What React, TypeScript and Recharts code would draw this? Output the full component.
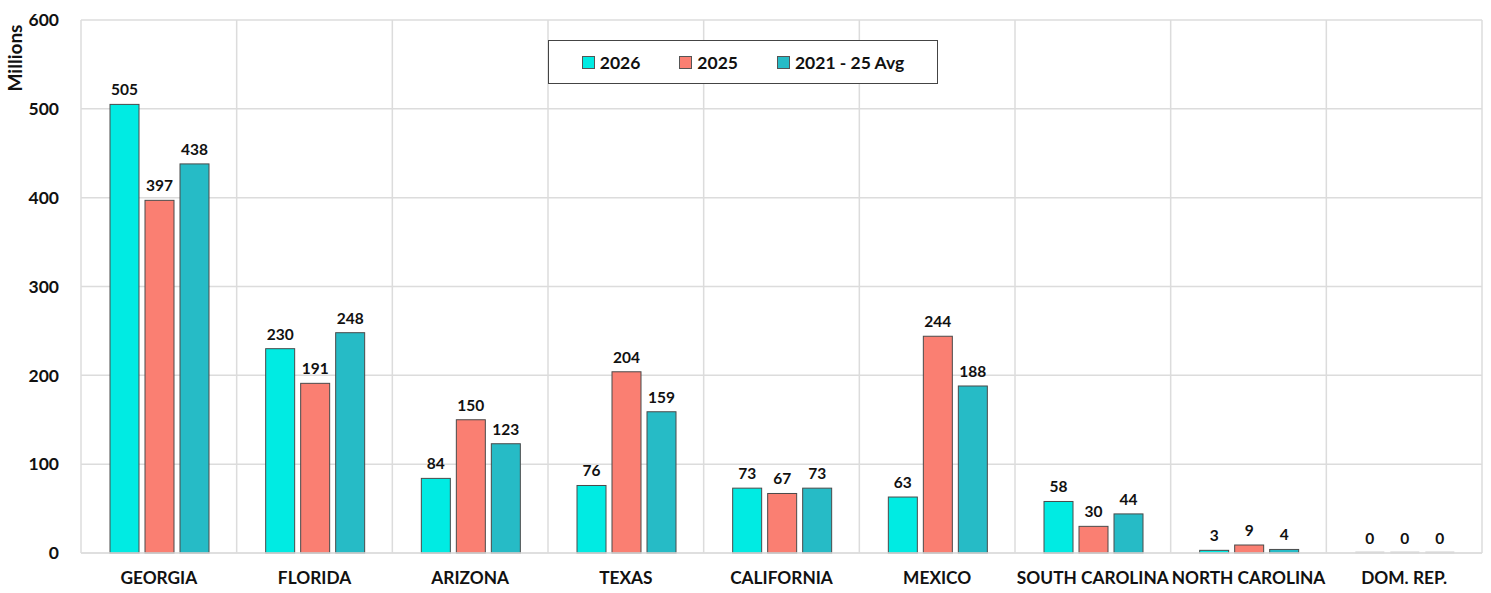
import React from "react";
import { BarChart, Bar, XAxis, YAxis, CartesianGrid, LabelList, Legend } from "recharts";

const categories = ["GEORGIA", "FLORIDA", "ARIZONA", "TEXAS", "CALIFORNIA", "MEXICO", "SOUTH CAROLINA", "NORTH CAROLINA", "DOM. REP."];
const values2026 = [505, 230, 84, 76, 73, 63, 58, 3, 0];
const values2025 = [397, 191, 150, 204, 67, 244, 30, 9, 0];
const valuesAvg = [438, 248, 123, 159, 73, 188, 44, 4, 0];
const yTicks = [0, 100, 200, 300, 400, 500, 600];

const seriesNames = ["2026", "2025", "2021 - 25 Avg"];
const colors = ["#00EBE3", "#FA7F72", "#26BBC6"];

const data = categories.map((c, i) => ({
  name: c,
  v2026: values2026[i],
  v2025: values2025[i],
  vAvg: valuesAvg[i],
}));

const FONT = "Lato, 'Open Sans', sans-serif";

const BarShape = (props: any) => {
  const { x, y, width, height, fill } = props;
  if (!height || height < 1) {
    return <rect x={x} y={y - 1.5} width={width} height={2} fill="#d0d0d0" />;
  }
  return <rect x={x} y={y} width={width} height={height} fill={fill} stroke="#4a4a4a" strokeWidth={1} />;
};

const LegendBox = () => (
  <div
    style={{
      position: "absolute",
      left: 548,
      top: 40,
      width: 390,
      height: 44,
      border: "1.5px solid #444",
      background: "#fff",
      display: "flex",
      alignItems: "center",
      justifyContent: "center",
      gap: 39,
      fontFamily: FONT,
      fontWeight: 700,
      fontSize: 17.5,
      color: "#111",
      boxSizing: "border-box",
    }}
  >
    {seriesNames.map((n, i) => (
      <div key={n} style={{ display: "flex", alignItems: "center", gap: 5 }}>
        <div style={{ width: 11, height: 11, background: colors[i], border: "1px solid #555" }} />
        <span>{n}</span>
      </div>
    ))}
  </div>
);

const MillionsLabel = () => (
  <text
    x={0}
    y={0}
    transform="translate(22,58) rotate(-90)"
    textAnchor="middle"
    fontFamily={FONT}
    fontWeight={700}
    fontSize={19}
    fill="#111"
  >
    Millions
  </text>
);

export default function App() {
  const vGen = ({ offset }: any) => {
    const arr: number[] = [];
    for (let i = 0; i <= categories.length; i++) arr.push(offset.left + (offset.width * i) / categories.length);
    return arr;
  };
  return (
    <div style={{ position: "absolute", left: 0, top: 0, width: 1491, height: 593, background: "#fff" }}>
      <BarChart
        width={1491}
        height={593}
        data={data}
        margin={{ top: 20, right: 9, bottom: 0, left: 0 }}
        barCategoryGap={29}
        barGap={6}
      >
        <CartesianGrid stroke="#dcdcdc" strokeWidth={1.5} verticalCoordinatesGenerator={vGen} />
        <XAxis
          dataKey="name"
          height={40}
          tickLine={false}
          axisLine={{ stroke: "#dcdcdc", strokeWidth: 1.5 }}
          interval={0}
          tick={{ fontFamily: FONT, fontWeight: 700, fontSize: 17.3, fill: "#111" }}
          tickMargin={13}
        />
        <YAxis
          width={81}
          domain={[0, 600]}
          ticks={yTicks}
          tickLine={false}
          axisLine={false}
          tick={{ fontFamily: FONT, fontWeight: 700, fontSize: 17.5, fill: "#111" }}
          tickMargin={16}
          label={<MillionsLabel />}
        />
        <Legend content={<LegendBox />} wrapperStyle={{ position: "absolute", left: 0, top: 0 }} />
        {(["v2026", "v2025", "vAvg"] as const).map((k, i) => (
          <Bar key={k} dataKey={k} name={seriesNames[i]} fill={colors[i]} isAnimationActive={false} shape={<BarShape />}>
            <LabelList
              dataKey={k}
              position="top"
              offset={9}
              style={{ fontFamily: FONT, fontWeight: 700, fontSize: 15.5, fill: "#111" }}
            />
          </Bar>
        ))}
      </BarChart>
    </div>
  );
}
